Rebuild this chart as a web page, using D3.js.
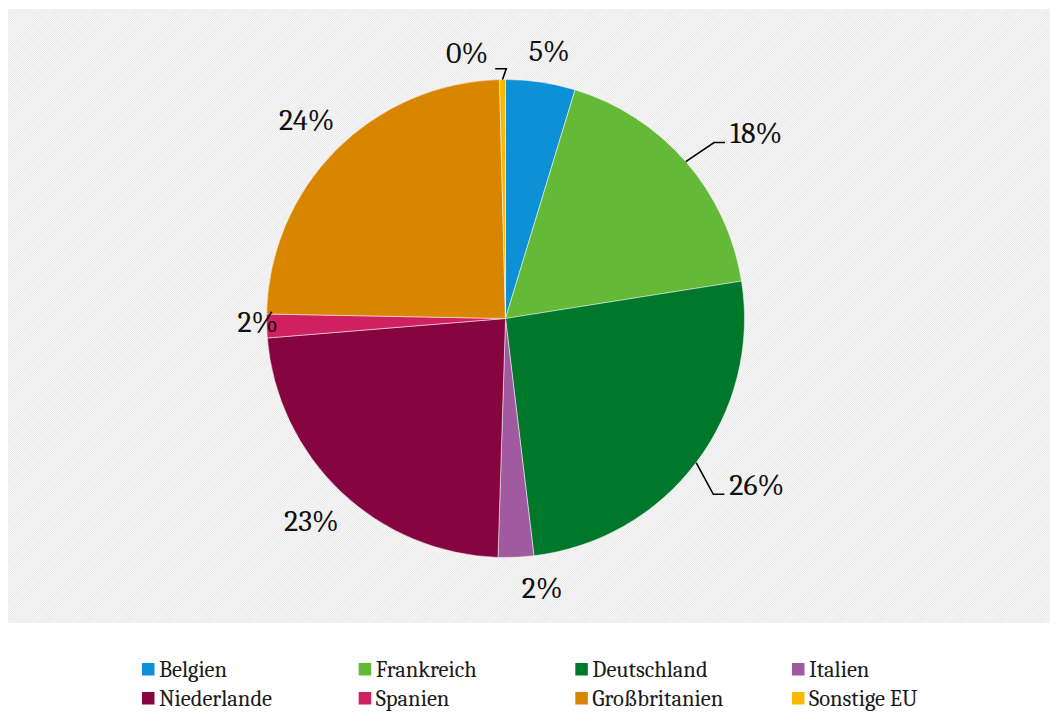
<!DOCTYPE html>
<html>
<head>
<meta charset="utf-8">
<script src="https://cdn.jsdelivr.net/npm/d3@7"></script>
<style>
  body { margin: 0; background: #fff; }
  svg { display: block; }
</style>
</head>
<body>
<svg id="chart" width="1050" height="712"></svg>
<script>
// Shares of EU partner countries (percent)
const categories = ["Belgien", "Frankreich", "Deutschland", "Italien", "Niederlande", "Spanien", "Großbritanien", "Sonstige EU"];
const shares = [4.7, 17.8, 25.6, 2.4, 23.2, 1.6, 24.3, 0.4];
const colors = ["#0e90d6", "#64b937", "#00782c", "#a05aa0", "#860440", "#d1205f", "#d88500", "#fbb800"];

// Label placement tweaks (px) relative to the default outside-end position
const labelNudge = {
  "Belgien": [4, 0],
  "Frankreich": [37, 1],
  "Deutschland": [24, -5],
  "Italien": [25, 2],
  "Niederlande": [1, -2],
  "Spanien": [30, -5],
  "Großbritanien": [2.5, 2.5],
  "Sonstige EU": [-35, 2]
};
// Labels that are connected to their slice with a leader line
const leaderSide = { "Frankreich": "left", "Deutschland": "left", "Sonstige EU": "right" };

const W = 1050, H = 712;
const cx = 505.5, cy = 318.5, R = 239;
const FONT = "Cambria";

const svg = d3.select("#chart");
const defs = svg.append("defs");

// Fine grey checker texture with faint diagonal bands for the plot background
const chk = defs.append("pattern").attr("id", "chk")
  .attr("patternUnits", "userSpaceOnUse").attr("width", 2).attr("height", 2);
chk.append("rect").attr("width", 2).attr("height", 2).attr("fill", "#f6f6f6");
chk.append("rect").attr("x", 0).attr("y", 0).attr("width", 1).attr("height", 1).attr("fill", "#eaeaea");
chk.append("rect").attr("x", 1).attr("y", 1).attr("width", 1).attr("height", 1).attr("fill", "#eaeaea");

const diag = defs.append("pattern").attr("id", "diag")
  .attr("patternUnits", "userSpaceOnUse").attr("width", 14).attr("height", 14)
  .attr("patternTransform", "rotate(-45)");
diag.append("rect").attr("width", 14).attr("height", 4).attr("fill", "#ffffff").attr("opacity", 0.12);

svg.append("rect").attr("x", 8).attr("y", 9).attr("width", W - 8).attr("height", 614).attr("fill", "url(#chk)");
svg.append("rect").attr("x", 8).attr("y", 9).attr("width", W - 8).attr("height", 614).attr("fill", "url(#diag)");

const data = categories.map((c, i) => ({ name: c, value: shares[i], color: colors[i] }));
const total = d3.sum(shares);

const pie = d3.pie().value(d => d.value).sort(null).startAngle(0).endAngle(2 * Math.PI);
const arcs = pie(data);
const arc = d3.arc().innerRadius(0).outerRadius(R);

const g = svg.append("g").attr("transform", `translate(${cx},${cy})`);
g.selectAll("path.slice").data(arcs).join("path")
  .attr("class", "slice")
  .attr("d", arc)
  .attr("fill", d => d.data.color)
  .attr("stroke", "#ffffff")
  .attr("stroke-width", 0.5);

// Data labels
const fmt = v => Math.round(v / total * 100) + "%";
const labelLayer = svg.append("g");
const lineLayer = svg.append("g");

arcs.forEach(a => {
  const mid = (a.startAngle + a.endAngle) / 2;
  const s = Math.sin(mid), c = Math.cos(mid);
  const t = labelLayer.append("text")
    .style("font-family", FONT)
    .attr("font-size", 30)
    .attr("fill", "#111")
    .attr("text-anchor", "middle")
    .text(fmt(a.data.value));
  const w = t.node().getComputedTextLength();
  const h = 20;
  const rl = R + 18 + Math.abs(s) * w / 2 + Math.abs(c) * h / 2;
  const nudge = labelNudge[a.data.name] || [0, 0];
  const lx = cx + rl * s + nudge[0];
  const ly = cy - rl * c + nudge[1];
  const baseline = ly + 9.5;
  t.attr("x", lx).attr("y", baseline);

  const side = leaderSide[a.data.name];
  if (side) {
    const start = [cx + R * s, cy - R * c];
    let end, elbow;
    if (side === "left") {
      end = [lx - w / 2 - 5, baseline - 0.5];
      elbow = [end[0] - 11, end[1]];
    } else {
      end = [lx + w / 2 + 7, baseline + 6];
      elbow = [end[0] + 11, end[1]];
    }
    lineLayer.append("path")
      .attr("d", d3.line()([start, elbow, end]))
      .attr("fill", "none")
      .attr("stroke", "#000")
      .attr("stroke-width", 1.6);
  }
});

// Legend: 4 columns, 2 rows
const legX = d3.scaleLinear().domain([0, 3]).range([142, 792]);
const legY = d3.scaleLinear().domain([0, 1]).range([663, 692]);
const leg = svg.append("g");
data.forEach((d, i) => {
  const col = i % 4, row = Math.floor(i / 4);
  const x = legX(col), y = legY(row);
  leg.append("rect").attr("x", x).attr("y", y).attr("width", 12.5).attr("height", 12.5).attr("fill", d.color);
  leg.append("text")
    .attr("x", x + 17)
    .attr("y", y + 14)
    .style("font-family", FONT)
    .attr("font-size", 22.5)
    .attr("fill", "#1a1a1a")
    .text(d.name);
});
</script>
</body>
</html>
